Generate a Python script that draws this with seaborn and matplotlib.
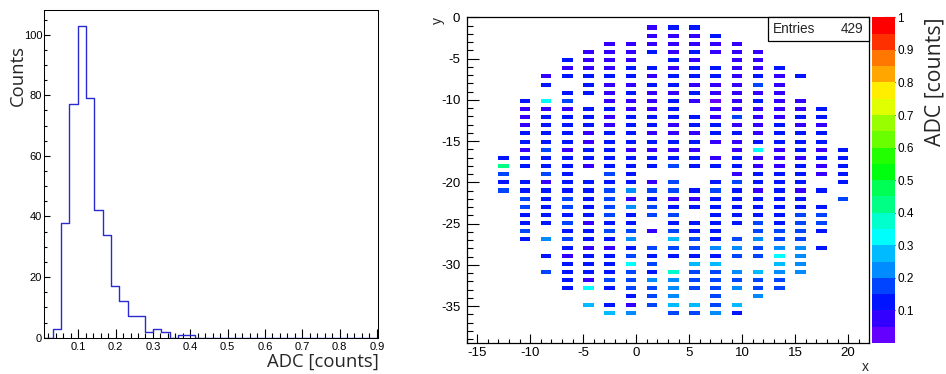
import numpy as np
import pandas as pd
import matplotlib
matplotlib.use("Agg")
import matplotlib.pyplot as plt
import seaborn as sns
from matplotlib.colors import ListedColormap, hsv_to_rgb
from matplotlib.ticker import MultipleLocator
from matplotlib.patches import Rectangle

sns.set_theme(style="white")
plt.rcParams["font.family"] = ["Liberation Sans", "DejaVu Sans"]
plt.rcParams["axes.unicode_minus"] = False

# ---------------- ADC spectrum (1D) ----------------
adc_range = (0.0089, 0.9039)
adc_nbins = 40
adc_counts = [0, 3, 38, 77, 103, 79, 42, 34, 17, 12,
              7, 7, 2, 3, 2, 0, 1, 1, 0, 0,
              0, 0, 0, 0, 0, 0, 0, 0, 0, 0,
              0, 0, 0, 0, 0, 0, 0, 0, 0, 0]

# ---------------- pixel map (2D) ----------------
map_x = [-12.5, -10.5, -8.5, -6.5, -4.5, -2.5, -0.5, 1.5, 3.5,
         5.5, 7.5, 9.5, 11.5, 13.5, 15.5, 17.5, 19.5]
x_range = (-16, 22)
y_range = (-39.5, 0.0)
y_nbins = 80

# ADC band of every pixel, one string per pixel row from the top
# ('.' = no hit)
map_rows = [
    ".......pbb.......",
    ".......pppb......",
    ".....ppppppp.....",
    "....pppbpbppp....",
    "...bppp.bp.pp....",
    "...pppbbpbbppb...",
    "..pbbbbpbbbpbpb..",
    "..b.bppbbpppBp...",
    "...bbpbppbpppp...",
    ".bcB.pppbpvpbpp..",
    ".pppbbppb.pppppb.",
    ".pbbbpbbbbpBppbb.",
    ".pbbbpbbpbbppbpp.",
    ".bbbpbbpppbbpbbb.",
    ".bbbpbbbbbppbbbb.",
    ".pBpbbpppp.pcpbpb",
    "bbbbbbbbbbpbpppbb",
    "gbbbpbbbBbbbppbpb",
    "B.Bb.Bb....pbbbpb",
    "bbpbbbbpB.bBbbb.b",
    "BbbbbBlBBbBbpbpb.",
    ".BbBbBpbppbbbbb.B",
    ".BbBbBlBbbbbbbbb.",
    ".bbbbBbBB.bbbbBB.",
    ".bbBpbb.bbbbBbBB.",
    ".B.bbBBpBbb.BBBb.",
    ".blBbbl.sBbBlBB..",
    "...bppbBBBllBllb.",
    "..bpbbBbbbbBBcl..",
    "...bbbcB.ss..sl..",
    "..BbbbBbaBBlsll..",
    "...bpBBllBBBBB...",
    "...bcbBBlBBlBB...",
    "......bBl.B.l....",
    "....sbpBssBs.....",
    ".....sl.BBlb.....",
]
band_value = {"v": 0.04, "p": 0.08, "b": 0.12, "B": 0.17, "l": 0.22,
              "s": 0.27, "c": 0.32, "a": 0.38, "g": 0.41}
entries = 429

# bin edges of the map; pixel rows occupy every second y bin
x_edges = list(np.arange(x_range[0], x_range[1] + 1, 1.0))
y_edges = list(np.linspace(y_range[0], y_range[1], y_nbins + 1))
top_down = np.array(y_edges[::-1])
n_rows = len(map_rows)
row_y = 0.5 * (top_down[2:2 + 2 * n_rows:2] + top_down[3:3 + 2 * n_rows:2])

recs = []
for yv, row in zip(row_y, map_rows):
    for xv, ch in zip(map_x, row):
        if ch != ".":
            recs.append((xv, yv, band_value[ch]))
hits = pd.DataFrame(recs, columns=["x", "y", "adc"])

# 20-level violet->red palette (HLS rainbow, lightness 0.5)
palette_hue = [263.2, 252.0, 235.2, 224.0, 207.2, 196.0, 179.2, 168.0, 151.2, 140.0,
               123.2, 112.0, 95.2, 84.0, 67.2, 56.0, 39.2, 28.0, 11.2, 0.0]
rainbow = ListedColormap([hsv_to_rgb((h / 360.0, 1.0, 1.0)) for h in palette_hue])

fig = plt.figure(figsize=(9.46, 3.74), dpi=100)
W, H = 946.0, 374.0

def frac_box(x0, y0, x1, y1):
    return [x0 / W, 1 - y1 / H, (x1 - x0) / W, (y1 - y0) / H]

title_font = ["Open Sans", "DejaVu Sans"]

# ---------- left pad: spectrum ----------
ax1 = fig.add_axes(frac_box(44.3, 10.0, 378.3, 337.7))
adc_edges = list(np.linspace(adc_range[0], adc_range[1], adc_nbins + 1))
spectrum = pd.DataFrame({"adc": 0.5 * (np.array(adc_edges[:-1]) + np.array(adc_edges[1:])),
                         "counts": adc_counts})
sns.histplot(data=spectrum, x="adc", weights="counts", bins=adc_edges, element="step",
             fill=False, color="#2a2ad0", linewidth=1.0, ax=ax1)
ax1.set_xlim(*adc_range)
ax1.set_ylim(0, 1.05 * max(adc_counts))
ax1.set_xlabel("")
ax1.set_ylabel("")
ax1.xaxis.set_minor_locator(MultipleLocator(0.02))
ax1.yaxis.set_major_locator(MultipleLocator(20))
ax1.yaxis.set_minor_locator(MultipleLocator(5))
x1_ticks = [0.1, 0.2, 0.3, 0.4, 0.5, 0.6, 0.7, 0.8, 0.9]
ax1.set_xticks(x1_ticks)
ax1.set_xticklabels([f"{v:.1f}" for v in x1_ticks])
ax1.tick_params(axis="both", which="both", direction="in", colors="black",
                labelsize=8.0, width=0.8, bottom=True, left=True, top=False, right=False)
ax1.tick_params(axis="x", which="major", length=6.7, pad=2.8)
ax1.tick_params(axis="x", which="minor", length=3.4)
ax1.tick_params(axis="y", which="major", length=4.1, pad=1.5)
ax1.tick_params(axis="y", which="minor", length=2.0)
for sp in ax1.spines.values():
    sp.set_color("black")
    sp.set_linewidth(0.75)

fig.text(17.5 / W, 1 - 76 / H, "Counts", rotation=90, ha="center", va="center",
         fontsize=13.3, family=title_font)
fig.text(378.5 / W, 1 - 362 / H, "ADC [counts]", ha="right", va="center",
         fontsize=13.3, family=title_font)

# ---------- right pad: pixel map ----------
ax2 = fig.add_axes(frac_box(466.7, 17.3, 869.3, 343.3))
sns.histplot(data=hits, x="x", y="y", weights="adc", bins=[x_edges, y_edges],
             cmap=rainbow, vmin=0, vmax=1, ax=ax2)
mesh = ax2.collections[0]
ax2.set_xlim(*x_range)
ax2.set_ylim(*y_range)
ax2.set_xlabel("")
ax2.set_ylabel("")
ax2.xaxis.set_major_locator(MultipleLocator(5))
ax2.xaxis.set_minor_locator(MultipleLocator(1))
ax2.set_yticks(np.arange(-35, 1, 5))
ax2.yaxis.set_minor_locator(MultipleLocator(1))
ax2.tick_params(axis="both", which="both", direction="in", colors="black",
                labelsize=9.5, width=0.8, bottom=True, left=True, top=False, right=False)
ax2.tick_params(axis="x", which="major", length=6.7, pad=3.0)
ax2.tick_params(axis="x", which="minor", length=3.1)
ax2.tick_params(axis="y", which="major", length=8.4, pad=4.6)
ax2.tick_params(axis="y", which="minor", length=4.1)
for sp in ax2.spines.values():
    sp.set_color("black")
    sp.set_linewidth(0.9)

# statistics box
bx0 = (768.3 - 466.7) / 402.6
by0 = 1 - (41.0 - 17.3) / 326.0
ax2.add_patch(Rectangle((bx0, by0), 1 - bx0, 1 - by0, transform=ax2.transAxes,
                        facecolor="white", edgecolor="black", linewidth=0.9,
                        zorder=5, clip_on=False))
ax2.text((773.3 - 466.7) / 402.6, 1 - (29.3 - 17.3) / 326.0, "Entries",
         transform=ax2.transAxes, ha="left", va="center", fontsize=9.8, zorder=6)
ax2.text((863.5 - 466.7) / 402.6, 1 - (29.3 - 17.3) / 326.0, f"{entries}",
         transform=ax2.transAxes, ha="right", va="center", fontsize=9.8, zorder=6)

fig.text(437.5 / W, 1 - 20 / H, "y", rotation=90, ha="center", va="center", fontsize=10)
fig.text(865.5 / W, 1 - 367 / H, "x", ha="center", va="center", fontsize=10)

# ---------- colour scale ----------
cax = fig.add_axes(frac_box(871.7, 17.3, 894.8, 343.0))
cb = fig.colorbar(mesh, cax=cax)
cb.outline.set_visible(False)
cb_ticks = [0.1, 0.2, 0.3, 0.4, 0.5, 0.6, 0.7, 0.8, 0.9, 1.0]
cb.set_ticks(cb_ticks)
cb.set_ticklabels([f"{t:.1f}" if t < 1 else "1" for t in cb_ticks])
cax.minorticks_off()
cax.tick_params(axis="y", which="major", direction="in", length=8.0, width=0.8,
                colors="black", labelsize=8.5, pad=1.8, right=True, left=False)
fig.text(934.5 / W, 1 - 17 / H, "ADC [counts]", rotation=90, ha="center", va="top",
         fontsize=15.3, family=title_font)

fig.savefig("out.png", dpi=100)
